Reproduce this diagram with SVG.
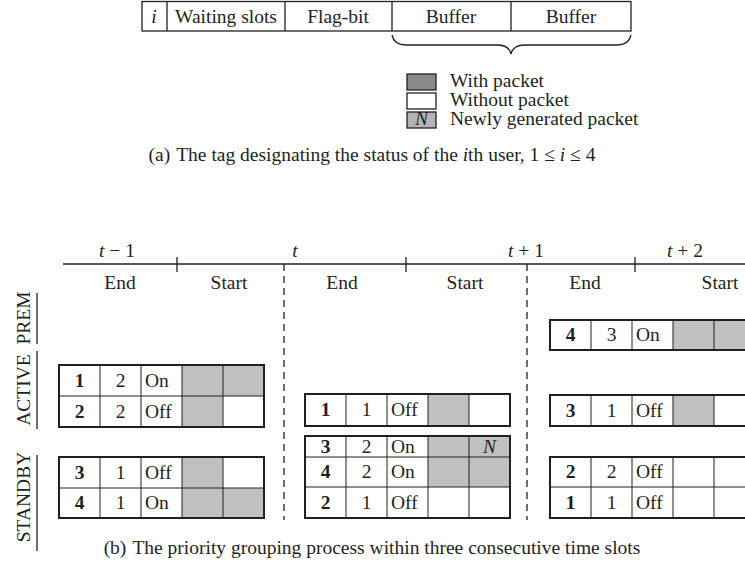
<svg xmlns="http://www.w3.org/2000/svg" width="745" height="577" viewBox="0 0 745 577">
<style>
text{font-family:"Liberation Serif","Times New Roman",serif;font-size:19.5px;fill:#231f20}
.c{text-anchor:middle}
.b{font-weight:bold}
.i{font-style:italic}
.g{fill:#c0c0c2}
.ln{stroke:#231f20;stroke-width:1;fill:none}
.ob{stroke:#231f20;stroke-width:2;fill:none}
.tl{stroke:#231f20;stroke-width:1.3;fill:none}
.dash{stroke:#231f20;stroke-width:1.3;stroke-dasharray:7 5;fill:none}
</style>
<rect width="745" height="577" fill="#ffffff"/>

<g id="tag">
  <rect x="142" y="1.5" width="489" height="29.5" class="tl"/>
  <path d="M167 1.5V31M285 1.5V31M392 1.5V31M511 1.5V31" class="tl"/>
  <text x="154" y="23" class="c i">i</text>
  <text x="226" y="23" class="c">Waiting slots</text>
  <text x="338" y="23" class="c">Flag-bit</text>
  <text x="451" y="23" class="c">Buffer</text>
  <text x="571" y="23" class="c">Buffer</text>
  <path d="M392 35Q394 45 406 45H497Q509 45 511 54Q513 45 525 45H617Q629 45 631 35" class="tl"/>
</g>

<g id="legend">
  <rect x="407" y="74" width="29" height="16" fill="#8a8a8c" stroke="#231f20" stroke-width="1.3"/>
  <text x="450" y="87">With packet</text>
  <rect x="407" y="93" width="29" height="16" fill="#ffffff" stroke="#231f20" stroke-width="1.3"/>
  <text x="450" y="106">Without packet</text>
  <rect x="407" y="112" width="29" height="16" fill="#b4b4b6" stroke="#231f20" stroke-width="1.3"/>
  <text x="421.5" y="125" class="c i" font-size="17">N</text>
  <text x="450" y="125">Newly generated packet</text>
</g>

<text x="372" y="161" class="c">(a)<tspan dx="6">The tag designating the status of the </tspan><tspan class="i">i</tspan>th user, 1 ≤ <tspan class="i">i</tspan> ≤ 4</text>

<g id="connectors">
  <path d="M63 264H745" class="tl"/>
  <path d="M177 257V272M406 257V272M635 257V272" class="tl"/>
  <path d="M284 264V520M527 264V520" class="dash"/>
</g>

<g id="timeline-labels">
  <text x="117" y="257" class="c"><tspan class="i">t</tspan> − 1</text>
  <text x="295" y="257" class="c i">t</text>
  <text x="526" y="257" class="c"><tspan class="i">t</tspan> + 1</text>
  <text x="685" y="257" class="c"><tspan class="i">t</tspan> + 2</text>
  <text x="120" y="289" class="c">End</text>
  <text x="229" y="289" class="c">Start</text>
  <text x="342" y="289" class="c">End</text>
  <text x="465" y="289" class="c">Start</text>
  <text x="585" y="289" class="c">End</text>
  <text x="720" y="289" class="c">Start</text>
</g>

<g id="group-labels">
  <text transform="translate(30,318) rotate(-90)" class="c">PREM</text>
  <path d="M37 293V344" class="tl"/>
  <text transform="translate(30,390) rotate(-90)" class="c">ACTIVE</text>
  <path d="M37 351V429" class="tl"/>
  <text transform="translate(30,497) rotate(-90)" class="c">STANDBY</text>
  <path d="M37 455V551" class="tl"/>
</g>

<g id="prev-active">
  <rect x="182" y="365" width="41" height="31" class="g"/>
  <rect x="223" y="365" width="41" height="31" class="g"/>
  <rect x="182" y="396" width="41" height="31" class="g"/>
  <path d="M59 396H264M100 365V427M141 365V427M182 365V427M223 365V427" class="ln"/>
  <rect x="59" y="365" width="205" height="62" class="ob"/>
  <text x="79.5" y="387" class="c b">1</text><text x="120.5" y="387" class="c">2</text><text x="145" y="387">On</text>
  <text x="79.5" y="418" class="c b">2</text><text x="120.5" y="418" class="c">2</text><text x="145" y="418">Off</text>
</g>

<g id="prev-standby">
  <rect x="182" y="457" width="41" height="31" class="g"/>
  <rect x="182" y="488" width="41" height="30" class="g"/>
  <rect x="223" y="488" width="41" height="30" class="g"/>
  <path d="M59 488H264M100 457V518M141 457V518M182 457V518M223 457V518" class="ln"/>
  <rect x="59" y="457" width="205" height="61" class="ob"/>
  <text x="79.5" y="479" class="c b">3</text><text x="120.5" y="479" class="c">1</text><text x="145" y="479">Off</text>
  <text x="79.5" y="509" class="c b">4</text><text x="120.5" y="509" class="c">1</text><text x="145" y="509">On</text>
</g>

<g id="mid-active">
  <rect x="428" y="394" width="41" height="32" class="g"/>
  <path d="M346 394V426M387 394V426M428 394V426M469 394V426" class="ln"/>
  <rect x="305" y="394" width="205" height="32" class="ob"/>
  <text x="325.5" y="416" class="c b">1</text><text x="366.5" y="416" class="c">1</text><text x="391" y="416">Off</text>
</g>

<g id="mid-standby">
  <rect x="428" y="436" width="41" height="21" class="g"/>
  <rect x="469" y="436" width="41" height="21" class="g"/>
  <rect x="428" y="457" width="41" height="30" class="g"/>
  <rect x="469" y="457" width="41" height="30" class="g"/>
  <path d="M305 457H510M305 487H510M346 436V518M387 436V518M428 436V518M469 436V518" class="ln"/>
  <rect x="305" y="436" width="205" height="82" class="ob"/>
  <text x="325.5" y="453" class="c b">3</text><text x="366.5" y="453" class="c">2</text><text x="391" y="453">On</text>
  <text x="489.5" y="453" class="c i">N</text>
  <text x="325.5" y="478" class="c b">4</text><text x="366.5" y="478" class="c">2</text><text x="391" y="478">On</text>
  <text x="325.5" y="509" class="c b">2</text><text x="366.5" y="509" class="c">1</text><text x="391" y="509">Off</text>
</g>

<g id="next-prem">
  <rect x="673" y="320" width="41" height="30" class="g"/>
  <rect x="714" y="320" width="41" height="30" class="g"/>
  <path d="M591 320V350M632 320V350M673 320V350M714 320V350" class="ln"/>
  <rect x="550" y="320" width="205" height="30" class="ob"/>
  <text x="570.5" y="341" class="c b">4</text><text x="611.5" y="341" class="c">3</text><text x="636" y="341">On</text>
</g>

<g id="next-active">
  <rect x="673" y="395" width="41" height="31" class="g"/>
  <path d="M591 395V426M632 395V426M673 395V426M714 395V426" class="ln"/>
  <rect x="550" y="395" width="205" height="31" class="ob"/>
  <text x="570.5" y="417" class="c b">3</text><text x="611.5" y="417" class="c">1</text><text x="636" y="417">Off</text>
</g>

<g id="next-standby">
  <path d="M550 487H755M591 457V518M632 457V518M673 457V518M714 457V518" class="ln"/>
  <rect x="550" y="457" width="205" height="61" class="ob"/>
  <text x="570.5" y="478" class="c b">2</text><text x="611.5" y="478" class="c">2</text><text x="636" y="478">Off</text>
  <text x="570.5" y="509" class="c b">1</text><text x="611.5" y="509" class="c">1</text><text x="636" y="509">Off</text>
</g>

<text x="372" y="554" class="c">(b)<tspan dx="6">The priority grouping process within three consecutive time slots</tspan></text>
</svg>
